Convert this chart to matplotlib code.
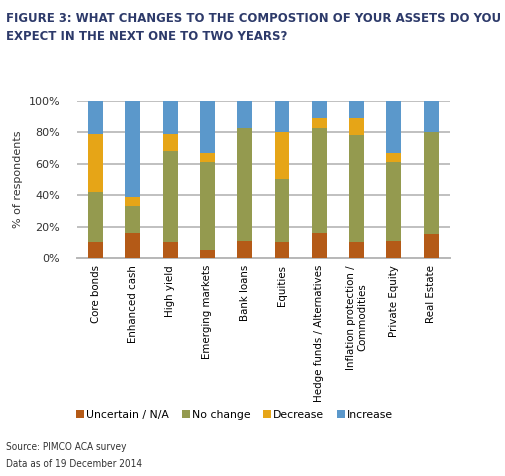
import numpy as np
import matplotlib.pyplot as plt
from matplotlib.patches import Patch

categories = ["Core bonds", "Enhanced cash", "High yield", "Emerging markets",
              "Bank loans", "Equities", "Hedge funds / Alternatives",
              "Inflation protection /\nCommodities", "Private Equity", "Real Estate"]
uncertain = [10, 16, 10, 5, 11, 10, 16, 10, 11, 15]
no_change = [32, 17, 58, 56, 72, 40, 67, 68, 50, 65]
decrease = [37, 6, 11, 6, 0, 30, 6, 11, 6, 0]
increase = [21, 61, 21, 33, 17, 20, 11, 11, 33, 20]
series_names = ["Uncertain / N/A", "No change", "Decrease", "Increase"]
colors = ["#B45A17", "#949A4F", "#E6A517", "#5B98CB"]

fig = plt.figure(figsize=(5.05, 4.76), dpi=100)
ax = fig.add_axes([0.1525, 0.458, 0.738, 0.330])

x = np.arange(len(categories))
bottom = np.zeros(len(categories))
for vals, col in zip([uncertain, no_change, decrease, increase], colors):
    ax.bar(x, vals, width=0.4, bottom=bottom, color=col, zorder=3)
    bottom += np.array(vals)

ax.set_xlim(-0.5, len(categories) - 0.5)
ax.set_ylim(0, 100)
ax.set_yticks(range(0, 101, 20))
ax.set_yticklabels([f"{v}%" for v in range(0, 101, 20)], fontsize=8, color="#333333")
ax.yaxis.grid(True, color="#C0C0C0", linewidth=1.4, zorder=0)
ax.tick_params(axis="y", length=0, pad=12)
ax.tick_params(axis="x", length=0, pad=5)
ax.set_xticks(x)
ax.set_xticklabels(categories, rotation=90, fontsize=7.4, va="top", ha="center",
                   multialignment="center")
for s in ["left", "right", "top"]:
    ax.spines[s].set_visible(False)
ax.spines["bottom"].set_color("#B8B8B8")
ax.spines["bottom"].set_linewidth(1.4)
ax.set_ylabel("% of respondents", fontsize=8, color="#333333", labelpad=4)

fig.text(0.012, 0.975, "FIGURE 3: WHAT CHANGES TO THE COMPOSTION OF YOUR ASSETS DO YOU\nEXPECT IN THE NEXT ONE TO TWO YEARS?",
         fontsize=9.4, fontweight="bold", color="#2D3A6A", va="top", ha="left",
         linespacing=1.5, fontstretch="condensed")

handles = [Patch(facecolor=c, label=n) for n, c in zip(series_names, colors)]
fig.legend(handles=handles, loc="center", bbox_to_anchor=(0.465, 0.128), ncol=4,
           frameon=False, fontsize=7.8, handlelength=0.7, handleheight=0.7,
           handletextpad=0.2, columnspacing=1.2)

fig.text(0.012, 0.061, "Source: PIMCO ACA survey", fontsize=7.2, color="#333333",
         va="center", fontstretch="condensed")
fig.text(0.012, 0.025, "Data as of 19 December 2014", fontsize=7.2, color="#333333",
         va="center", fontstretch="condensed")

fig.savefig("out.png", dpi=100)
